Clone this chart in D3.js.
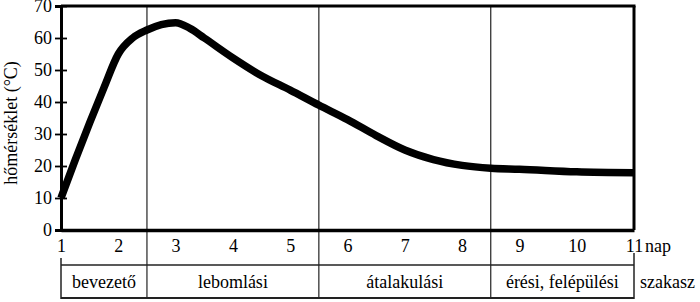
<!DOCTYPE html>
<html>
<head>
<meta charset="utf-8">
<script src="https://cdn.jsdelivr.net/npm/d3@7"></script>
<style>
  body { margin: 0; background: #fff; }
  svg, text { font-family: "Liberation Serif", "DejaVu Serif", serif; fill: #000; }
</style>
</head>
<body>
<script>
// data
var days  = [1, 1.25, 1.5, 1.75, 2, 2.25, 2.5, 2.75, 3, 3.25, 3.5, 4, 4.5, 5, 5.5, 6, 6.5, 7, 7.5, 8, 8.5, 9, 10, 11];
var temps = [10, 22, 33.5, 44.5, 55, 60, 62.5, 64.2, 64.8, 63, 60, 53.8, 48.2, 43.7, 39, 34.5, 29.5, 25, 22, 20.2, 19.3, 19, 18.2, 17.9];
var xTicks = [1, 2, 3, 4, 5, 6, 7, 8, 9, 10, 11];
var yTicks = [0, 10, 20, 30, 40, 50, 60, 70];
var phases = ["bevezető", "lebomlási", "átalakulási", "érési, felépülési"];
var phaseBounds = [1, 2.5, 5.5, 8.5, 11];

var w_svg = 700, h_svg = 302;
var left = 61, right = 634, top_ = 6, bottom = 230;
var tabTop = 265, tabBot = 298;
var fs = "18px";

var svg = d3.select("body").append("svg")
  .attr("width", w_svg).attr("height", h_svg);

var xScale = d3.scaleLinear().domain([1, 11]).range([left, right]);
var yScale = d3.scaleLinear().domain([0, 70]).range([bottom, top_]);

// phase dividers (through plot and table)
svg.selectAll("line.div")
  .data(phaseBounds.slice(1, -1)).enter().append("line")
  .attr("x1", function(d) { return xScale(d); })
  .attr("x2", function(d) { return xScale(d); })
  .attr("y1", top_).attr("y2", tabBot)
  .attr("stroke", "#222").attr("stroke-width", 1.2);

// table lines
svg.append("line").attr("x1", left).attr("x2", right).attr("y1", tabTop).attr("y2", tabTop)
  .attr("stroke", "#222").attr("stroke-width", 1.5);
svg.append("line").attr("x1", left).attr("x2", right).attr("y1", tabBot).attr("y2", tabBot)
  .attr("stroke", "#222").attr("stroke-width", 2);
svg.append("line").attr("x1", left).attr("x2", left).attr("y1", 258).attr("y2", tabBot + 1)
  .attr("stroke", "#222").attr("stroke-width", 1.5);
svg.append("line").attr("x1", right).attr("x2", right).attr("y1", 253).attr("y2", tabBot + 1)
  .attr("stroke", "#222").attr("stroke-width", 1.5);

// phase labels
svg.selectAll("text.phase")
  .data(phases).enter().append("text")
  .attr("x", function(d, i) { return (xScale(phaseBounds[i]) + xScale(phaseBounds[i + 1])) / 2; })
  .attr("y", 288)
  .attr("text-anchor", "middle")
  .style("font-size", fs)
  .text(function(d) { return d; });

svg.append("text").attr("x", 640).attr("y", 288).style("font-size", fs).text("szakasz");

// top and right borders
svg.append("line").attr("x1", left).attr("x2", right + 1.5).attr("y1", top_).attr("y2", top_)
  .attr("stroke", "#000").attr("stroke-width", 3);
svg.append("line").attr("x1", right).attr("x2", right).attr("y1", top_).attr("y2", bottom)
  .attr("stroke", "#000").attr("stroke-width", 3);

// x axis
var x_axis = d3.axisBottom(xScale).tickValues(xTicks).tickSize(0).tickPadding(9);
var gx = svg.append("g").attr("transform", "translate(0," + bottom + ")").call(x_axis);
gx.select(".domain").attr("stroke", "#000").attr("stroke-width", 3.5);
gx.selectAll("text").style("font-size", fs).style("font-family", "Liberation Serif");

svg.append("text").attr("x", 645).attr("y", 252).style("font-size", fs).text("nap");

// y axis
var y_axis = d3.axisLeft(yScale).tickValues(yTicks).tickSize(6).tickPadding(3);
var gy = svg.append("g").attr("transform", "translate(" + left + ",0)").call(y_axis);
gy.select(".domain").attr("stroke", "#000").attr("stroke-width", 3);
gy.selectAll(".tick line").attr("x1", 6).attr("stroke-width", 1.8);
gy.selectAll("text").style("font-size", fs).style("font-family", "Liberation Serif");

svg.append("text")
  .attr("transform", "translate(17,123) rotate(-90)")
  .attr("text-anchor", "middle")
  .style("font-size", fs)
  .text("hőmérséklet (°C)");

// temperature curve
var line = d3.line()
  .x(function(d) { return xScale(d[0]); })
  .y(function(d) { return yScale(d[1]); })
  .curve(d3.curveMonotoneX);

svg.append("path")
  .datum(d3.zip(days, temps))
  .attr("d", line)
  .attr("fill", "none")
  .attr("stroke", "#000")
  .attr("stroke-width", 7.5);
</script>
</body>
</html>
